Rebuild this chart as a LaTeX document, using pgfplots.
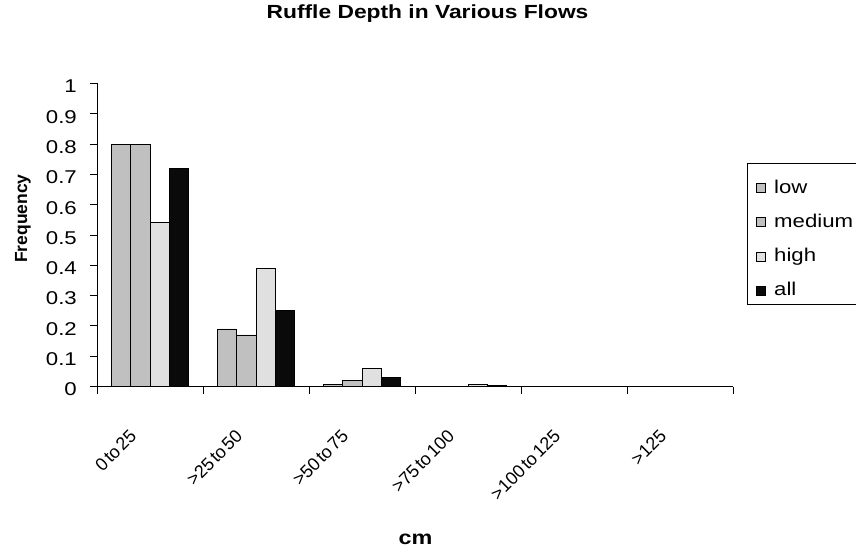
\documentclass[border=0pt]{standalone}
\usepackage{fontspec}
\setmainfont{Liberation Sans}[FakeStretch=1.2]
\newfontfamily\plainsans{Liberation Sans}
\newfontfamily\labelsans{Liberation Sans}[WordSpace=0.4]
\usepackage{pgfplots}
\pgfplotsset{compat=1.18}

\definecolor{lowgray}{HTML}{C0C0C0}
\definecolor{medgray}{HTML}{C0C0C0}
\definecolor{highgray}{HTML}{E0E0E0}
\definecolor{allblack}{HTML}{0A0A0A}

\begin{document}
\begin{tikzpicture}
\useasboundingbox (0,0) rectangle (856bp,552bp);
\begin{axis}[
  at={(97bp,165.5bp)}, anchor=south west,
  scale only axis, width=636bp, height=303bp,
  xmin=-0.5, xmax=5.5, ymin=0, ymax=1,
  axis x line*=bottom, axis y line*=left,
  axis line style={black, line width=0.8bp},
  ybar=0pt, bar width=0.182,
  tick align=outside, major tick length=7bp,
  tick style={black, line width=0.8bp},
  xtick={-0.5,0.5,1.5,2.5,3.5,4.5,5.5},
  xticklabels={,,,,,,},
  extra x ticks={0,1,2,3,4,5},
  extra x tick labels={0 to 25,>25 to 50,>50 to 75,>75 to 100,>100 to 125,>125},
  extra x tick style={major tick length=0pt},
  xticklabel style={xshift=-21.5bp, yshift=-42bp, rotate=45, anchor=north east,
    inner sep=0pt, font=\labelsans\fontsize{18bp}{20bp}\selectfont},
  ytick={0,0.1,0.2,0.3,0.4,0.5,0.6,0.7,0.8,0.9,1},
  yticklabel style={anchor=east, inner sep=0pt, xshift=-13bp, yshift=-3bp,
    font=\fontsize{18.5bp}{20bp}\selectfont},
  /pgf/number format/assume math mode=true,
  title={Ruffle Depth in Various Flows},
  title style={at={(axis description cs:0.5197,1.196)}, anchor=base,
    inner sep=0pt, font=\bfseries\fontsize{19bp}{21bp}\selectfont},
  xlabel={cm},
  xlabel style={at={(axis description cs:0.5008,-0.523)}, anchor=base,
    inner sep=0pt, font=\bfseries\fontsize{19.5bp}{21bp}\selectfont},
  ylabel={Frequency},
  ylabel style={at={(axis description cs:-0.110,0.554)}, anchor=base, rotate=0,
    inner sep=0pt, font=\plainsans\bfseries\fontsize{17.5bp}{19bp}\selectfont},
  every axis plot/.append style={draw=black, line width=0.8bp},
  legend style={at={(axis description cs:1.022,0.7376)}, anchor=north west,
    draw=black, line width=0.8bp, inner xsep=9bp, inner ysep=4.6bp,
    row sep=5.3bp, column sep=0pt,
    font=\fontsize{18.5bp}{20bp}\selectfont,
    nodes={inner sep=0pt, text height=25bp, text depth=4bp}},
  legend cell align=left,
  legend image code/.code={
    \draw[#1, line width=0.8bp] (0bp,-10bp) rectangle (9bp,-1bp);
    \path (17bp,0bp);
  },
]
\addplot[fill=lowgray] coordinates {(0,0.8) (1,0.19) (2,0.007) (3,0) (4,0) (5,0)};
\addplot[fill=medgray] coordinates {(0,0.8) (1,0.17) (2,0.02) (3,0) (4,0) (5,0)};
\addplot[fill=highgray] coordinates {(0,0.54) (1,0.39) (2,0.06) (3,0.007) (4,0) (5,0)};
\addplot[fill=allblack] coordinates {(0,0.72) (1,0.25) (2,0.03) (3,0.003) (4,0) (5,0)};
\legend{low,medium,high,all}
\end{axis}
\end{tikzpicture}
\end{document}
